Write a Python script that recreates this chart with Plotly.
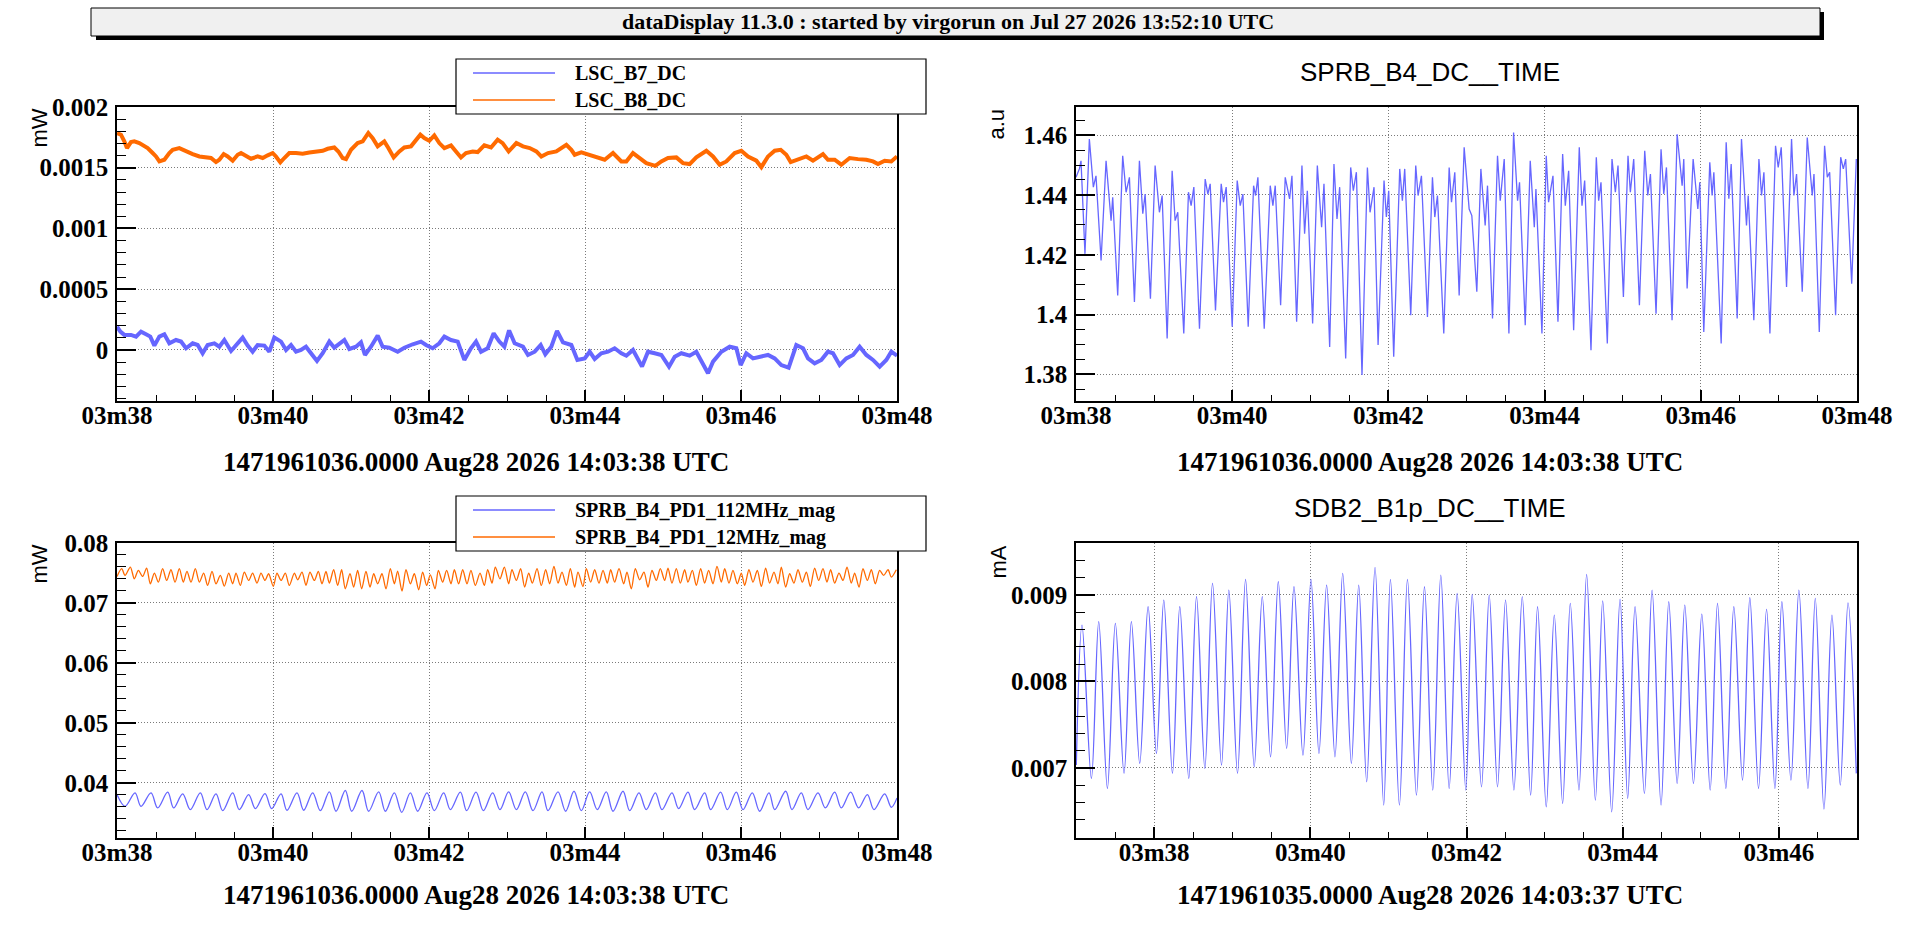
import plotly.graph_objects as go

# canvas size in px (everything below is placed in these coordinates)
W, H = 1905, 925

# ---------------- data (times in s after 14:03:00 UTC) ----------------
lsc_b8_t = [38.000, 38.051, 38.094, 38.128, 38.179, 38.222, 38.286, 38.350, 38.393, 38.457,
            38.500, 38.543, 38.607, 38.671, 38.714, 38.799, 38.885, 38.970, 39.056, 39.141,
            39.205, 39.269, 39.312, 39.368, 39.419, 39.483, 39.547, 39.590, 39.654, 39.718,
            39.803, 39.868, 39.932, 39.996, 40.038, 40.094, 40.145, 40.209, 40.295, 40.380,
            40.466, 40.551, 40.637, 40.701, 40.786, 40.838, 40.893, 40.936, 41.000, 41.085,
            41.150, 41.222, 41.278, 41.342, 41.427, 41.479, 41.547, 41.620, 41.684, 41.769,
            41.833, 41.889, 41.940, 42.004, 42.068, 42.132, 42.197, 42.282, 42.346, 42.410,
            42.474, 42.560, 42.624, 42.709, 42.795, 42.880, 42.944, 43.021,
            43.120, 43.205, 43.291, 43.376, 43.440, 43.526, 43.632, 43.697, 43.761, 43.825,
            43.868, 43.953, 44.060, 44.167, 44.252, 44.359, 44.466, 44.530, 44.615, 44.701,
            44.786, 44.902, 44.979, 45.064, 45.171, 45.256, 45.342, 45.427, 45.556, 45.641,
            45.726, 45.812, 45.919, 46.004, 46.090, 46.197, 46.261, 46.346, 46.432, 46.509,
            46.581, 46.637, 46.731, 46.838, 46.923, 47.051, 47.115, 47.201, 47.286, 47.393,
            47.500, 47.607, 47.692, 47.756, 47.842, 47.927, 48.000]
lsc_b8 = [0.001786, 0.001772, 0.001717, 0.001662, 0.001711, 0.001717, 0.001703, 0.001676, 0.001662, 0.001621,
          0.001593, 0.001552, 0.001566, 0.001621, 0.001648, 0.001662, 0.001634, 0.001612, 0.001593, 0.001585,
          0.001580, 0.001547, 0.001566, 0.001612, 0.001593, 0.001558, 0.001607, 0.001621, 0.001593, 0.001574,
          0.001593, 0.001580, 0.001602, 0.001621, 0.001593, 0.001544, 0.001580, 0.001621, 0.001621, 0.001615,
          0.001626, 0.001634, 0.001640, 0.001656, 0.001667, 0.001634, 0.001580, 0.001571, 0.001648, 0.001703,
          0.001717, 0.001786, 0.001744, 0.001676, 0.001717, 0.001662, 0.001585, 0.001634, 0.001667, 0.001676,
          0.001731, 0.001772, 0.001744, 0.001722, 0.001766, 0.001703, 0.001662, 0.001684, 0.001634, 0.001585,
          0.001621, 0.001634, 0.001629, 0.001684, 0.001667, 0.001731, 0.001703, 0.001634,
          0.001703, 0.001676, 0.001662, 0.001634, 0.001593, 0.001621, 0.001634, 0.001662, 0.001689, 0.001648,
          0.001607, 0.001626, 0.001607, 0.001588, 0.001566, 0.001621, 0.001552, 0.001552, 0.001621, 0.001580,
          0.001538, 0.001516, 0.001552, 0.001580, 0.001585, 0.001538, 0.001530, 0.001585, 0.001640, 0.001593,
          0.001525, 0.001552, 0.001621, 0.001640, 0.001593, 0.001558, 0.001505, 0.001593, 0.001640, 0.001648,
          0.001607, 0.001547, 0.001571, 0.001593, 0.001558, 0.001612, 0.001566, 0.001566, 0.001525, 0.001580,
          0.001571, 0.001566, 0.001552, 0.001530, 0.001558, 0.001552, 0.001593]

lsc_b7_t = [38.000, 38.043, 38.094, 38.179, 38.244, 38.308, 38.372, 38.427, 38.479, 38.543,
            38.607, 38.671, 38.756, 38.821, 38.885, 38.970, 39.034, 39.098, 39.162, 39.248,
            39.312, 39.376, 39.462, 39.526, 39.611, 39.675, 39.739, 39.803, 39.889, 39.953,
            40.017, 40.103, 40.167, 40.231, 40.295, 40.359, 40.423, 40.487, 40.564, 40.637,
            40.722, 40.786, 40.838, 40.915, 40.979, 41.064, 41.128, 41.179, 41.256, 41.342,
            41.406, 41.491, 41.598, 41.684, 41.791, 41.897, 41.962, 42.047, 42.132, 42.197,
            42.282, 42.368, 42.453, 42.538, 42.603, 42.667, 42.752, 42.829, 42.902, 42.966,
            43.021,
            43.034, 43.098, 43.205, 43.269, 43.355, 43.432, 43.491, 43.568, 43.641, 43.718,
            43.825, 43.902, 43.996, 44.060, 44.124, 44.209, 44.295, 44.380, 44.466, 44.530,
            44.615, 44.731, 44.808, 44.893, 44.979, 45.077, 45.150, 45.235, 45.342, 45.427,
            45.491, 45.577, 45.641, 45.748, 45.855, 45.940, 45.996, 46.068, 46.154, 46.261,
            46.346, 46.432, 46.517, 46.611, 46.709, 46.795, 46.859, 46.944, 47.030, 47.115,
            47.179, 47.265, 47.350, 47.436, 47.521, 47.607, 47.692, 47.778, 47.863, 47.927,
            48.000]
lsc_b7 = [0.000192, 0.000151, 0.000124, 0.000124, 0.000110, 0.000151, 0.000129, 0.000110, 0.000036, 0.000110,
          0.000129, 0.000055, 0.000082, 0.000069, 0.000014, 0.000055, 0.000041, -0.000027, 0.000041, 0.000055,
          0.000027, 0.000082, -0.000008, 0.000041, 0.000102, 0.000036, -0.000014, 0.000041, 0.000036, -0.000014,
          0.000102, 0.000069, 0.000000, 0.000041, -0.000014, 0.000000, 0.000027, -0.000027, -0.000091, -0.000027,
          0.000069, 0.000019, 0.000041, 0.000082, 0.000008, 0.000027, 0.000063, -0.000041, 0.000027, 0.000118,
          0.000027, 0.000019, -0.000014, 0.000019, 0.000047, 0.000069, 0.000041, 0.000014, 0.000055, 0.000110,
          0.000082, 0.000069, -0.000082, 0.000014, 0.000069, -0.000014, 0.000014, 0.000137, 0.000069, 0.000027,
          0.000151,
          0.000151, 0.000055, 0.000027, -0.000041, -0.000014, 0.000041, -0.000036, 0.000027, 0.000157, 0.000063,
          0.000041, -0.000082, -0.000069, -0.000014, -0.000074, -0.000027, -0.000014, 0.000014, -0.000027, -0.000047,
          0.000000, -0.000137, -0.000014, -0.000027, -0.000041, -0.000137, -0.000055, -0.000027, -0.000047, -0.000014,
          -0.000096, -0.000192, -0.000096, -0.000014, 0.000027, 0.000014, -0.000124, -0.000027, -0.000069, -0.000055,
          -0.000041, -0.000069, -0.000124, -0.000146, 0.000041, 0.000014, -0.000069, -0.000110, -0.000082, -0.000014,
          -0.000027, -0.000124, -0.000069, -0.000041, 0.000027, -0.000041, -0.000082, -0.000137, -0.000082, -0.000014,
          -0.000047]

sprb_t = [38.000, 38.043, 38.064,
          38.115, 38.171, 38.222, 38.256, 38.321, 38.385, 38.449, 38.470,
          38.534, 38.598, 38.641, 38.684, 38.748, 38.812, 38.855, 38.885,
          38.953, 39.013, 39.068, 39.103, 39.167, 39.231, 39.269, 39.303,
          39.380, 39.440, 39.474, 39.509, 39.581, 39.654, 39.688, 39.718,
          39.786, 39.859, 39.889, 39.923, 40.000, 40.064, 40.103, 40.137,
          40.205, 40.274, 40.299, 40.329, 40.410, 40.487, 40.521, 40.551,
          40.620, 40.679, 40.735, 40.765, 40.825, 40.893, 40.927, 40.962,
          41.030, 41.090, 41.145, 41.175, 41.248, 41.303, 41.342, 41.376,
          41.453, 41.517, 41.551, 41.590, 41.662, 41.731, 41.765, 41.816,
          41.868, 41.944, 41.974, 42.004, 42.068, 42.145, 42.179, 42.209,
          42.286, 42.350, 42.380, 42.423, 42.500, 42.564, 42.594, 42.628,
          42.709, 42.778, 42.808, 42.850, 42.906, 42.970,
          43.034, 43.068,
          43.132, 43.184, 43.239, 43.269, 43.333, 43.397, 43.432, 43.483,
          43.543, 43.603, 43.654, 43.679, 43.752, 43.816, 43.868, 43.889,
          43.966, 44.021, 44.051, 44.107, 44.171, 44.231, 44.265, 44.308,
          44.372, 44.444, 44.479, 44.513, 44.594, 44.662, 44.692, 44.722,
          44.803, 44.863, 44.906, 44.940, 45.009, 45.068, 45.098, 45.141,
          45.214, 45.282, 45.321, 45.355, 45.427, 45.491, 45.526, 45.560,
          45.632, 45.697, 45.761, 45.782, 45.825, 45.902, 45.962, 45.987,
          46.038, 46.115, 46.145, 46.167, 46.261, 46.325, 46.359, 46.389,
          46.466, 46.521, 46.585, 46.607, 46.679, 46.744, 46.778, 46.808,
          46.885, 46.957, 46.991, 47.030, 47.098, 47.162, 47.192, 47.226,
          47.299, 47.363, 47.427, 47.449, 47.517, 47.585, 47.620, 47.650,
          47.726, 47.791, 47.825, 47.855, 47.932, 47.991]
sprb = [1.4459, 1.4487, 1.4514,
        1.4203, 1.4587, 1.4426, 1.4464, 1.4181, 1.4514, 1.4314, 1.4392,
        1.4064, 1.4531, 1.4409, 1.4459, 1.4042, 1.4514, 1.4337, 1.4403,
        1.4053, 1.4498, 1.4342, 1.4398, 1.3920, 1.4481, 1.4314, 1.4342,
        1.3937, 1.4409, 1.4364, 1.4426, 1.3953, 1.4453, 1.4403, 1.4437,
        1.4014, 1.4437, 1.4376, 1.4426, 1.3959, 1.4448, 1.4364, 1.4403,
        1.3959, 1.4431, 1.4398, 1.4459, 1.3953, 1.4431, 1.4364, 1.4431,
        1.4031, 1.4459, 1.4387, 1.4464, 1.3976, 1.4498, 1.4270, 1.4414,
        1.3970, 1.4498, 1.4292, 1.4437, 1.3892, 1.4503, 1.4320, 1.4426,
        1.3853, 1.4492, 1.4414, 1.4476, 1.3798, 1.4492, 1.4342, 1.4426,
        1.3898, 1.4448, 1.4326, 1.4414, 1.3859, 1.4487, 1.4381, 1.4487,
        1.3998, 1.4498, 1.4398, 1.4464, 1.3992, 1.4459, 1.4326, 1.4398,
        1.3937, 1.4492, 1.4376, 1.4476, 1.4064, 1.4559,
        1.4353, 1.4331,
        1.4076, 1.4487, 1.4298, 1.4431, 1.3987, 1.4531, 1.4381, 1.4520,
        1.3937, 1.4609, 1.4381, 1.4442, 1.3964, 1.4514, 1.4292, 1.4420,
        1.3937, 1.4531, 1.4376, 1.4464, 1.3976, 1.4537, 1.4364, 1.4481,
        1.3948, 1.4559, 1.4364, 1.4448, 1.3881, 1.4526, 1.4381, 1.4442,
        1.3903, 1.4520, 1.4409, 1.4498, 1.4059, 1.4531, 1.4409, 1.4520,
        1.4031, 1.4548, 1.4398, 1.4470, 1.4003, 1.4553, 1.4403, 1.4492,
        1.3981, 1.4603, 1.4431, 1.4520, 1.4087, 1.4520, 1.4353, 1.4442,
        1.3942, 1.4509, 1.4398, 1.4476, 1.3903, 1.4576, 1.4387, 1.4503,
        1.3987, 1.4587, 1.4298, 1.4398, 1.3981, 1.4520, 1.4398, 1.4476,
        1.3937, 1.4564, 1.4492, 1.4559, 1.4092, 1.4587, 1.4398, 1.4470,
        1.4076, 1.4592, 1.4398, 1.4470, 1.3942, 1.4564, 1.4459, 1.4476,
        1.3998, 1.4526, 1.4487, 1.4520, 1.4103, 1.4520]

pd1_112_t = [38.000, 38.103, 38.231, 38.308, 38.436, 38.521, 38.650, 38.726, 38.842, 38.940,
             39.068, 39.154, 39.269, 39.355, 39.483, 39.568, 39.688, 39.774, 39.897, 39.983,
             40.103, 40.179, 40.308, 40.393, 40.509, 40.607, 40.722, 40.808, 40.927, 41.009,
             41.141, 41.226, 41.355, 41.440, 41.556, 41.650, 41.761, 41.855, 41.974, 42.068,
             42.188, 42.274, 42.402, 42.483, 42.603, 42.697, 42.816, 42.910, 43.021,
             43.120, 43.235, 43.333, 43.449, 43.526, 43.654, 43.752, 43.859, 43.953, 44.060,
             44.158, 44.273, 44.359, 44.487, 44.573, 44.692, 44.786, 44.902, 44.987, 45.115,
             45.201, 45.320, 45.406, 45.534, 45.611, 45.739, 45.825, 45.940, 46.026, 46.145,
             46.239, 46.359, 46.432, 46.573, 46.654, 46.773, 46.859, 46.987, 47.081, 47.201,
             47.286, 47.406, 47.508, 47.620, 47.705, 47.842, 47.927, 48.000]
pd1_112 = [0.03805, 0.03609, 0.03833, 0.03609, 0.03833, 0.03582, 0.03844, 0.03582, 0.03816, 0.03554,
           0.03833, 0.03554, 0.03816, 0.03537, 0.03833, 0.03554, 0.03805, 0.03570, 0.03821, 0.03570,
           0.03816, 0.03543, 0.03833, 0.03543, 0.03833, 0.03537, 0.03849, 0.03526, 0.03872, 0.03526,
           0.03872, 0.03526, 0.03849, 0.03526, 0.03833, 0.03509, 0.03833, 0.03526, 0.03833, 0.03537,
           0.03833, 0.03554, 0.03844, 0.03537, 0.03844, 0.03537, 0.03833, 0.03554, 0.03849,
           0.03554, 0.03849, 0.03537, 0.03849, 0.03537, 0.03849, 0.03526, 0.03860, 0.03537, 0.03849,
           0.03554, 0.03849, 0.03526, 0.03860, 0.03537, 0.03833, 0.03554, 0.03833, 0.03554, 0.03833,
           0.03570, 0.03844, 0.03554, 0.03833, 0.03554, 0.03844, 0.03554, 0.03844, 0.03554, 0.03833,
           0.03526, 0.03833, 0.03554, 0.03860, 0.03554, 0.03833, 0.03554, 0.03833, 0.03582, 0.03844,
           0.03582, 0.03844, 0.03582, 0.03805, 0.03554, 0.03816, 0.03593, 0.03749]

pd1_12_t = [38.000, 38.060, 38.103, 38.171, 38.222, 38.274, 38.329, 38.380, 38.427, 38.479,
            38.530, 38.585, 38.637, 38.692, 38.744, 38.799, 38.850, 38.897, 38.949, 39.004,
            39.056, 39.111, 39.162, 39.218, 39.269, 39.325, 39.376, 39.432, 39.483, 39.526,
            39.581, 39.632, 39.688, 39.739, 39.795, 39.846, 39.897, 39.944, 40.004, 40.051,
            40.103, 40.158, 40.209, 40.274, 40.316, 40.372, 40.423, 40.474, 40.530, 40.581,
            40.628, 40.679, 40.722, 40.778, 40.829, 40.880, 40.927, 40.987, 41.034, 41.085,
            41.137, 41.192, 41.244, 41.291, 41.342, 41.397, 41.449, 41.504, 41.556, 41.598,
            41.654, 41.705, 41.761, 41.812, 41.868, 41.919, 41.970, 42.017, 42.077, 42.120,
            42.175, 42.226, 42.282, 42.325, 42.380, 42.432, 42.487, 42.538, 42.594, 42.654,
            42.709, 42.752, 42.808, 42.850, 42.910, 42.966, 43.021,
            43.064, 43.120, 43.175, 43.226, 43.278, 43.325, 43.385, 43.440, 43.496, 43.547,
            43.602, 43.654, 43.705, 43.761, 43.812, 43.867, 43.910, 43.974, 44.017, 44.073,
            44.124, 44.179, 44.231, 44.286, 44.329, 44.380, 44.436, 44.496, 44.538, 44.594,
            44.645, 44.701, 44.756, 44.808, 44.859, 44.914, 44.966, 45.021, 45.064, 45.115,
            45.171, 45.222, 45.278, 45.320, 45.376, 45.427, 45.483, 45.534, 45.585, 45.641,
            45.692, 45.748, 45.791, 45.846, 45.897, 45.953, 46.004, 46.047, 46.102, 46.154,
            46.209, 46.261, 46.316, 46.367, 46.423, 46.474, 46.517, 46.573, 46.624, 46.679,
            46.731, 46.786, 46.838, 46.889, 46.944, 46.996, 47.051, 47.102, 47.149, 47.201,
            47.256, 47.308, 47.359, 47.414, 47.457, 47.513, 47.564, 47.620, 47.671, 47.722,
            47.778, 47.829, 47.885, 47.927, 47.991]
pd1_12 = [0.07442, 0.07571, 0.07459, 0.07598, 0.07403, 0.07543, 0.07442, 0.07582, 0.07320, 0.07498,
          0.07347, 0.07571, 0.07375, 0.07554, 0.07347, 0.07571, 0.07347, 0.07526, 0.07347, 0.07571,
          0.07347, 0.07498, 0.07292, 0.07526, 0.07320, 0.07459, 0.07280, 0.07498, 0.07320, 0.07498,
          0.07292, 0.07515, 0.07375, 0.07498, 0.07331, 0.07498, 0.07375, 0.07487, 0.07275, 0.07498,
          0.07375, 0.07498, 0.07292, 0.07498, 0.07386, 0.07515, 0.07292, 0.07515, 0.07375, 0.07526,
          0.07320, 0.07526, 0.07331, 0.07554, 0.07292, 0.07554, 0.07236, 0.07487, 0.07264, 0.07543,
          0.07236, 0.07526, 0.07264, 0.07487, 0.07320, 0.07487, 0.07236, 0.07571, 0.07320, 0.07532,
          0.07197, 0.07554, 0.07320, 0.07487, 0.07219, 0.07515, 0.07292, 0.07470, 0.07236, 0.07543,
          0.07347, 0.07543, 0.07320, 0.07554, 0.07320, 0.07554, 0.07320, 0.07543, 0.07292, 0.07498,
          0.07292, 0.07554, 0.07331, 0.07598, 0.07403, 0.07598, 0.07320,
          0.07554, 0.07375, 0.07571, 0.07264, 0.07498, 0.07331, 0.07571, 0.07292, 0.07554, 0.07320,
          0.07610, 0.07331, 0.07515, 0.07292, 0.07571, 0.07264, 0.07515, 0.07275, 0.07571, 0.07347,
          0.07554, 0.07331, 0.07543, 0.07331, 0.07554, 0.07347, 0.07571, 0.07320, 0.07515, 0.07236,
          0.07571, 0.07386, 0.07515, 0.07264, 0.07543, 0.07375, 0.07571, 0.07375, 0.07582, 0.07331,
          0.07571, 0.07331, 0.07554, 0.07347, 0.07543, 0.07292, 0.07571, 0.07331, 0.07543, 0.07320,
          0.07610, 0.07347, 0.07571, 0.07331, 0.07543, 0.07320, 0.07498, 0.07292, 0.07554, 0.07347,
          0.07543, 0.07275, 0.07582, 0.07331, 0.07515, 0.07320, 0.07598, 0.07264, 0.07487, 0.07331,
          0.07554, 0.07347, 0.07515, 0.07275, 0.07582, 0.07375, 0.07571, 0.07347, 0.07554, 0.07331,
          0.07498, 0.07375, 0.07598, 0.07331, 0.07498, 0.07264, 0.07571, 0.07375, 0.07554, 0.07320,
          0.07543, 0.07459, 0.07554, 0.07431, 0.07554]

sdb2_t = [37.004, 37.077, 37.197, 37.291, 37.402, 37.504, 37.615, 37.709, 37.816, 37.923,
          38.030, 38.124, 38.235, 38.329, 38.444, 38.543, 38.650, 38.748, 38.863, 38.957,
          39.068, 39.171, 39.282, 39.385, 39.491, 39.590, 39.697, 39.791, 39.906, 40.009,
          40.111, 40.209, 40.316, 40.415, 40.526, 40.620, 40.722, 40.829, 40.940, 41.026,
          41.141, 41.244, 41.359, 41.462, 41.568, 41.671, 41.778, 41.880, 41.991,
          42.073, 42.192, 42.291, 42.397, 42.500, 42.607, 42.714, 42.821, 42.910, 43.021,
          43.124, 43.231, 43.329, 43.440, 43.538, 43.650, 43.744, 43.859, 43.966, 44.064,
          44.158, 44.278, 44.376, 44.491, 44.590, 44.697, 44.795, 44.906, 45.013, 45.120,
          45.214, 45.321, 45.423, 45.534, 45.628, 45.739, 45.842, 45.949, 46.038, 46.154,
          46.256, 46.372, 46.466, 46.577, 46.679, 46.786, 46.885, 46.991]
sdb2 = [0.007033, 0.008651, 0.006879, 0.008690, 0.006763, 0.008670, 0.006937, 0.008690, 0.007052, 0.008863,
        0.007168, 0.008940, 0.006937, 0.008863, 0.006879, 0.008979, 0.006994, 0.009133, 0.007033, 0.009056,
        0.006937, 0.009179, 0.007014, 0.008979, 0.007129, 0.009152, 0.007226, 0.009094, 0.007148, 0.009179,
        0.007168, 0.009114, 0.007129, 0.009248, 0.007052, 0.009114, 0.006840, 0.009318, 0.006571, 0.009179,
        0.006571, 0.009179, 0.006686, 0.009094, 0.006744, 0.009229, 0.006763, 0.009017, 0.006744,
        0.009006, 0.006782, 0.008998, 0.006782, 0.008940, 0.006744, 0.008979, 0.006686, 0.008863, 0.006551,
        0.008767, 0.006590, 0.008902, 0.006744, 0.009237, 0.006628, 0.008932, 0.006493, 0.008952, 0.006648,
        0.008863, 0.006705, 0.009056, 0.006571, 0.008921, 0.006821, 0.008882, 0.006821, 0.008778, 0.006744,
        0.008902, 0.006763, 0.008863, 0.006860, 0.008967, 0.006763, 0.008832, 0.006763, 0.008921, 0.006860,
        0.009056, 0.006763, 0.008959, 0.006524, 0.008767, 0.006802, 0.008909, 0.006937]

for a, b in [(lsc_b8_t, lsc_b8), (lsc_b7_t, lsc_b7), (sprb_t, sprb),
             (pd1_112_t, pd1_112), (pd1_12_t, pd1_12), (sdb2_t, sdb2)]:
    assert len(a) == len(b), (len(a), len(b))

# tick labels
x_ticks = [38, 40, 42, 44, 46, 48]
x_labels = ["03m38", "03m40", "03m42", "03m44", "03m46", "03m48"]
x_ticks_br = [38, 40, 42, 44, 46]
x_labels_br = ["03m38", "03m40", "03m42", "03m44", "03m46"]
y_ticks_tl = [0, 0.0005, 0.001, 0.0015, 0.002]
y_labels_tl = ["0", "0.0005", "0.001", "0.0015", "0.002"]
y_ticks_tr = [1.38, 1.40, 1.42, 1.44, 1.46]
y_labels_tr = ["1.38", "1.4", "1.42", "1.44", "1.46"]
y_ticks_bl = [0.04, 0.05, 0.06, 0.07, 0.08]
y_labels_bl = ["0.04", "0.05", "0.06", "0.07", "0.08"]
y_ticks_br = [0.007, 0.008, 0.009]
y_labels_br = ["0.007", "0.008", "0.009"]

BLUE = "#6666ff"
ORANGE = "#ff6a00"
SERIF = "Liberation Serif"
SANS = "Liberation Sans"


def px(x):
    return x / W


def py(y):
    return 1 - y / H


def xaxis(dom, rng, vals, txt, anchor, m0):
    return dict(domain=dom, range=rng, anchor=anchor, automargin=False,
                tickmode="array", tickvals=vals, ticktext=txt,
                ticks="inside", ticklen=11, tickwidth=1.5, tickcolor="black",
                minor=dict(ticks="inside", ticklen=6, tickwidth=1, tickcolor="black",
                           tickmode="linear", tick0=m0, dtick=0.5, showgrid=False),
                showgrid=True, gridcolor="#7a7a7a", gridwidth=1, griddash="1px,2px",
                showline=True, linecolor="black", linewidth=1.5, mirror=True, zeroline=False,
                tickfont=dict(family=SERIF, size=25, color="black", weight="bold"),
                ticklabelstandoff=-9)


def yaxis(dom, rng, vals, txt, anchor, m0, md):
    return dict(domain=dom, range=rng, anchor=anchor, automargin=False,
                tickmode="array", tickvals=vals, ticktext=txt,
                ticks="inside", ticklen=19, tickwidth=1.5, tickcolor="black",
                minor=dict(ticks="inside", ticklen=9, tickwidth=1, tickcolor="black",
                           tickmode="linear", tick0=m0, dtick=md, showgrid=False),
                showgrid=True, gridcolor="#7a7a7a", gridwidth=1, griddash="1px,2px",
                showline=True, linecolor="black", linewidth=1.5, mirror=True, zeroline=False,
                tickfont=dict(family=SERIF, size=25, color="black", weight="bold"),
                ticklabelstandoff=2)


fig = go.Figure()
fig.add_trace(go.Scatter(x=lsc_b7_t, y=lsc_b7, mode="lines", line=dict(color=BLUE, width=4),
                         xaxis="x", yaxis="y"))
fig.add_trace(go.Scatter(x=lsc_b8_t, y=lsc_b8, mode="lines", line=dict(color=ORANGE, width=4),
                         xaxis="x", yaxis="y"))
fig.add_trace(go.Scatter(x=sprb_t, y=sprb, mode="lines", line=dict(color=BLUE, width=1.3),
                         xaxis="x2", yaxis="y2"))
fig.add_trace(go.Scatter(x=pd1_112_t, y=pd1_112, mode="lines",
                         line=dict(color=BLUE, width=1.3, shape="spline", smoothing=1),
                         xaxis="x3", yaxis="y3"))
fig.add_trace(go.Scatter(x=pd1_12_t, y=pd1_12, mode="lines",
                         line=dict(color=ORANGE, width=1.3, shape="spline", smoothing=0.8),
                         xaxis="x3", yaxis="y3"))
fig.add_trace(go.Scatter(x=sdb2_t, y=sdb2, mode="lines",
                         line=dict(color=BLUE, width=1.3, shape="spline", smoothing=1),
                         xaxis="x4", yaxis="y4"))

# plot frames (px)
left_dom = [px(117), px(897)]
right_dom = [px(1076), px(1857)]
top_dom = [py(401), py(107)]
bot_dom = [py(838), py(543)]

shapes = [
    # header box with shadow
    dict(type="rect", xref="paper", yref="paper", x0=px(96), x1=px(1824), y0=py(40), y1=py(12),
         fillcolor="black", line=dict(width=0), layer="above"),
    dict(type="rect", xref="paper", yref="paper", x0=px(91), x1=px(1820), y0=py(36), y1=py(8),
         fillcolor="#f0f0f0", line=dict(color="black", width=1), layer="above"),
    # legend boxes
    dict(type="rect", xref="paper", yref="paper", x0=px(456), x1=px(926), y0=py(114), y1=py(59),
         fillcolor="white", line=dict(color="black", width=1.2), layer="above"),
    dict(type="rect", xref="paper", yref="paper", x0=px(456), x1=px(926), y0=py(551), y1=py(496),
         fillcolor="white", line=dict(color="black", width=1.2), layer="above"),
]
legend_rows = [(73, BLUE, "LSC_B7_DC"), (100, ORANGE, "LSC_B8_DC"),
               (510, BLUE, "SPRB_B4_PD1_112MHz_mag"), (537, ORANGE, "SPRB_B4_PD1_12MHz_mag")]
annotations = []
for yy, col, name in legend_rows:
    shapes.append(dict(type="line", xref="paper", yref="paper", x0=px(473), x1=px(555), y0=py(yy), y1=py(yy),
                       line=dict(color=col, width=1.5), layer="above"))
    annotations.append(dict(x=px(573), y=py(yy), xref="paper", yref="paper", text=name, showarrow=False,
                            xanchor="left", yanchor="middle",
                            font=dict(family=SERIF, size=20, color="black", weight="bold")))

annotations.append(dict(x=px(948), y=py(22), xref="paper", yref="paper", showarrow=False,
                        text="dataDisplay 11.3.0 : started by virgorun on Jul 27 2026 13:52:10 UTC",
                        xanchor="center", yanchor="middle",
                        font=dict(family=SERIF, size=22, color="black", weight="bold")))
for xx, yy, t in [(1430, 72, "SPRB_B4_DC__TIME"), (1430, 508, "SDB2_B1p_DC__TIME")]:
    annotations.append(dict(x=px(xx), y=py(yy), xref="paper", yref="paper", text=t, showarrow=False,
                            xanchor="center", yanchor="middle",
                            font=dict(family=SANS, size=26, color="black")))
for xx, yy, t in [(476, 462, "1471961036.0000 Aug28 2026 14:03:38 UTC"),
                  (1430, 462, "1471961036.0000 Aug28 2026 14:03:38 UTC"),
                  (476, 895, "1471961036.0000 Aug28 2026 14:03:38 UTC"),
                  (1430, 895, "1471961035.0000 Aug28 2026 14:03:37 UTC")]:
    annotations.append(dict(x=px(xx), y=py(yy), xref="paper", yref="paper", text=t, showarrow=False,
                            xanchor="center", yanchor="middle",
                            font=dict(family=SERIF, size=27, color="black", weight="bold")))
for xx, yy, t in [(39, 107, "mW"), (996, 107, "a.u"), (39, 543, "mW"), (998, 543, "mA")]:
    annotations.append(dict(x=px(xx), y=py(yy), xref="paper", yref="paper", text=t, showarrow=False,
                            textangle=-90, xanchor="center", yanchor="top",
                            font=dict(family=SANS, size=22, color="black")))

fig.update_layout(
    width=W, height=H, margin=dict(l=0, r=0, t=0, b=0, pad=0, autoexpand=False),
    paper_bgcolor="white", plot_bgcolor="white", showlegend=False,
    xaxis=xaxis(left_dom, [38, 48], x_ticks, x_labels, "y", 38),
    yaxis=yaxis(top_dom, [-0.00042, 0.002], y_ticks_tl, y_labels_tl, "x", 0, 0.0001),
    xaxis2=xaxis(right_dom, [38, 48], x_ticks, x_labels, "y2", 38),
    yaxis2=yaxis(top_dom, [1.3711, 1.4694], y_ticks_tr, y_labels_tr, "x2", 1.38, 0.005),
    xaxis3=xaxis(left_dom, [38, 48], x_ticks, x_labels, "y3", 38),
    yaxis3=yaxis(bot_dom, [0.0308, 0.08], y_ticks_bl, y_labels_bl, "x3", 0.04, 0.002),
    xaxis4=xaxis(right_dom, [37, 47], x_ticks_br, x_labels_br, "y4", 37),
    yaxis4=yaxis(bot_dom, [0.00619, 0.0096], y_ticks_br, y_labels_br, "x4", 0.007, 0.0002),
    shapes=shapes, annotations=annotations,
)

fig.write_html("out.html", config={"displayModeBar": False},
               post_script="document.body.style.margin='0';")
